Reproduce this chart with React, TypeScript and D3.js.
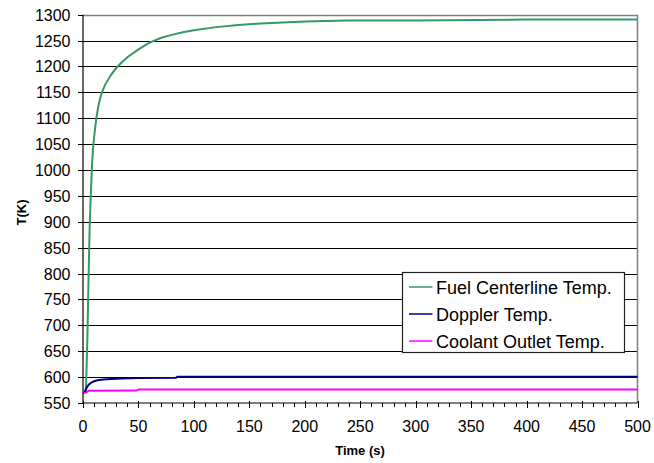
import React from "react";
import * as d3 from "d3";

const fuelTime = [2.5, 3, 4, 5, 6, 7, 8, 9, 10, 12, 14, 16, 18, 20, 25, 30, 35, 40, 50, 60, 70, 80, 90, 100, 120, 140, 160, 180, 200, 238, 300, 397, 500];
const fuelTemp = [570, 600, 680, 790, 890, 950, 1005, 1040, 1063, 1100, 1125, 1143, 1155, 1165, 1183, 1197, 1208, 1218, 1233, 1246, 1255, 1261, 1266, 1270, 1276, 1280, 1283, 1285, 1287, 1289, 1289, 1290.5, 1290.5];

const dopplerTime = [1.5, 2, 3, 4, 5, 6, 8, 10, 13, 18, 25, 35, 50, 84, 85, 500];
const dopplerTemp = [570, 574, 578, 582, 585, 587, 590, 592, 594, 595.5, 596.5, 597.5, 598.5, 599, 600.8, 600.8];

const coolantTime = [0, 3, 5, 48, 50, 500];
const coolantTemp = [569.5, 570, 573.5, 574, 576, 576];

const seriesNames = ["Fuel Centerline Temp.", "Doppler Temp.", "Coolant Outlet Temp."];
const seriesColors = ["#339966", "#000080", "#FF00FF"];

const yTicks = d3.range(550, 1301, 50);
const xTicks = d3.range(0, 501, 50);
const xMinorTicks = d3.range(0, 501, 10);

export default function App() {
  const W = 654, H = 463;
  const x = d3.scaleLinear().domain([0, 500]).range([83, 637.5]);
  const y = d3.scaleLinear().domain([550, 1300]).range([403, 14.7]);
  const line = d3.line<[number, number]>().x(d => x(d[0])).y(d => y(d[1]));
  const series = [
    fuelTime.map((t, i) => [t, fuelTemp[i]] as [number, number]),
    dopplerTime.map((t, i) => [t, dopplerTemp[i]] as [number, number]),
    coolantTime.map((t, i) => [t, coolantTemp[i]] as [number, number]),
  ];
  const font = "'Liberation Sans', Arial, sans-serif";
  const [x0, x1] = x.range();
  const [y0, y1] = y.range();
  const lx = 402.5, ly = 272.5, lw = 222, lh = 80;
  return (
    <svg width={W} height={H} style={{ position: "absolute", left: 0, top: 0 }} fontFamily={font}>
      <rect x={0} y={0} width={W} height={H} fill="#fff" />
      {yTicks.filter(v => v > 550 && v < 1300).map(v => (
        <line key={v} x1={x0} x2={x1} y1={Math.round(y(v)) + 0.5} y2={Math.round(y(v)) + 0.5} stroke="#000" strokeWidth={1} />
      ))}
      <line x1={x0} x2={x1} y1={Math.round(y1) + 0.5} y2={Math.round(y1) + 0.5} stroke="#808080" strokeWidth={1.5} />
      <line x1={x1} x2={x1} y1={y1} y2={y0} stroke="#808080" strokeWidth={1.5} />
      {series.map((s, i) => (
        <path key={i} d={line(s) || ""} fill="none" stroke={seriesColors[i]} strokeWidth={2} />
      ))}
      <line x1={x0} x2={x0} y1={y1} y2={y0 + 1} stroke="#000" strokeWidth={1.2} />
      <line x1={x0} x2={x1} y1={y0} y2={y0} stroke="#000" strokeWidth={1.2} />
      {yTicks.map(v => (
        <g key={v}>
          <line x1={x0 - 5} x2={x0} y1={Math.round(y(v)) + 0.5} y2={Math.round(y(v)) + 0.5} stroke="#000" />
          <text x={70.5} y={y(v) + 6} textAnchor="end" fontSize={16} fill="#000">{v}</text>
        </g>
      ))}
      {xMinorTicks.map(v => (
        <line key={v} x1={Math.round(x(v)) + 0.5} x2={Math.round(x(v)) + 0.5} y1={y0} y2={y0 + 4} stroke="#000" />
      ))}
      {xTicks.map(v => (
        <g key={v}>
          <line x1={Math.round(x(v)) + 0.5} x2={Math.round(x(v)) + 0.5} y1={y0 - 2} y2={y0 + 5} stroke="#000" />
          <text x={x(v)} y={431.5} textAnchor="middle" fontSize={16} fill="#000">{v}</text>
        </g>
      ))}
      <text x={360} y={455} textAnchor="middle" fontSize={13} fontWeight="bold" fill="#000">Time (s)</text>
      <text transform="translate(25.5,212.5) rotate(-90)" textAnchor="middle" fontSize={13} fontWeight="bold" fill="#000">T(K)</text>
      <rect x={lx} y={ly} width={lw} height={lh} fill="#fff" stroke="#222" strokeWidth={1.2} />
      {seriesNames.map((n, i) => {
        const cy = 287 + i * 27;
        return (
          <g key={n}>
            <line x1={409} x2={432.5} y1={cy} y2={cy} stroke={seriesColors[i]} strokeWidth={1.5} />
            <text x={436} y={cy + 6.5} fontSize={18} fill="#000">{n}</text>
          </g>
        );
      })}
    </svg>
  );
}
